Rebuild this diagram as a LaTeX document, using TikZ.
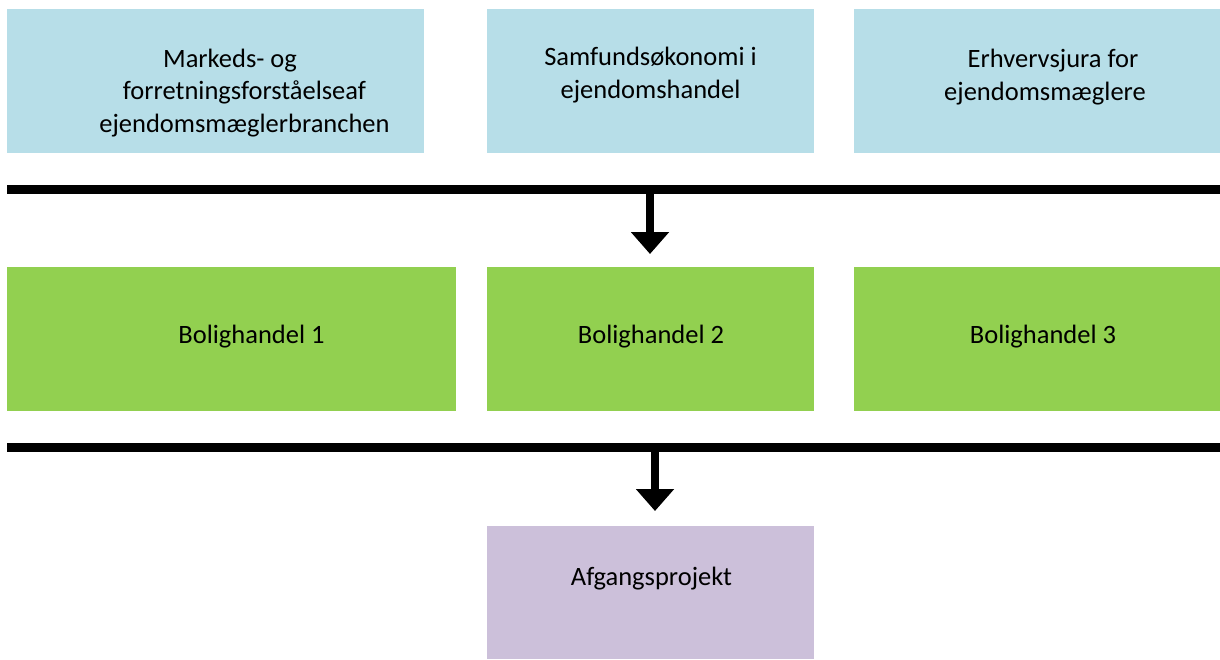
\documentclass[tikz,border=0pt]{standalone}
\usepackage{fontspec}
\setmainfont{Carlito}
\usetikzlibrary{arrows.meta}
\definecolor{boxblue}{HTML}{B7DEE8}
\definecolor{boxgreen}{HTML}{92D050}
\definecolor{boxpurple}{HTML}{CCC0DA}
\tikzset{
  panel/.style={rectangle, inner sep=0pt, outer sep=0pt, draw=none, anchor=north west},
  label/.style={inner sep=0pt, outer sep=0pt, align=center, anchor=base,
    font=\fontsize{26.5}{32.5}\selectfont, text=black},
  bar/.style={rectangle, fill=black, inner sep=0pt, outer sep=0pt, anchor=north west,
    minimum width=1213pt, minimum height=9pt},
  flow/.style={line width=8pt, -{Triangle[width=37pt,length=22pt]}},
}
\begin{document}
\begin{tikzpicture}[x=1pt,y=-1pt]
\useasboundingbox (0,0) rectangle (1220,659);
% top row
\node[panel, fill=boxblue, minimum width=417pt, minimum height=144pt] (b1) at (7,9) {};
\node[panel, fill=boxblue, minimum width=327pt, minimum height=144pt] (b2) at (487,9) {};
\node[panel, fill=boxblue, minimum width=366pt, minimum height=144pt] (b3) at (854,9) {};
\node[label] (tb1) at (244.5,132) {Markeds- og\hspace*{29pt}\\forretningsforståelseaf\\ejendomsmæglerbranchen};
\node[label] (tb2) at (650.5,98) {Samfundsøkonomi i\\ejendomshandel};
\node[label] (tb3) at (1045,100) {\hspace*{16pt}Erhvervsjura for\\ejendomsmæglere};
% bar 1
\node[bar] (bar1) at (7,185) {};
\coordinate (tip1) at (650,254);
\draw[flow] (bar1.south -| tip1) -- (tip1);
% green row
\node[panel, fill=boxgreen, minimum width=449pt, minimum height=144pt] (g1) at (7,267) {};
\node[panel, fill=boxgreen, minimum width=327pt, minimum height=144pt] (g2) at (487,267) {};
\node[panel, fill=boxgreen, minimum width=366pt, minimum height=144pt] (g3) at (854,267) {};
\node[label] (tg1) at (251.5,343) {Bolighandel 1};
\node[label] (tg2) at (651,343) {Bolighandel 2};
\node[label] (tg3) at (1043,343) {Bolighandel 3};
% bar 2
\node[bar] (bar2) at (7,443) {};
\coordinate (tip2) at (655,511);
\draw[flow] (bar2.south -| tip2) -- (tip2);
% final
\node[panel, fill=boxpurple, minimum width=327pt, minimum height=133pt] (p1) at (487,526) {};
\node[label] (tp1) at (651.5,585) {Afgangsprojekt};
\end{tikzpicture}
\end{document}
